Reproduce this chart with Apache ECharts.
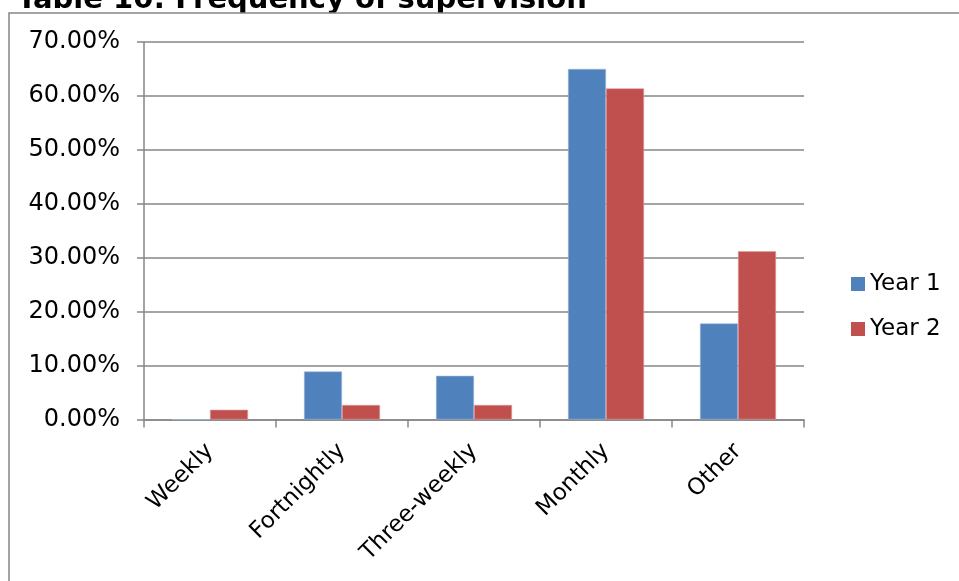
<!DOCTYPE html>
<html>
<head>
<meta charset="utf-8">
<script src="https://cdn.jsdelivr.net/npm/echarts@6/dist/echarts.min.js"></script>
<style>
  html, body { margin: 0; padding: 0; background: #fff; }
  #chart { width: 959px; height: 581px; }
</style>
</head>
<body>
<div id="chart"></div>
<script>
// Share of respondents by how often they receive supervision
const categories = ['Weekly', 'Fortnightly', 'Three-weekly', 'Monthly', 'Other'];
const year1 = [0, 0.089, 0.081, 0.650, 0.178];
const year2 = [0.018, 0.027, 0.027, 0.614, 0.312];
const seriesNames = ['Year 1', 'Year 2'];
const titleText = 'Table 10: Frequency of supervision';

const axisGray = '#868686';
const font = 'DejaVu Sans, Verdana, sans-serif';

const chart = echarts.init(document.getElementById('chart'), null, { renderer: 'canvas' });

chart.setOption({
  animation: false,
  backgroundColor: '#fff',
  textStyle: { fontFamily: font },
  graphic: [
    {
      // heading sits behind the chart frame, so only its upper part shows
      type: 'text',
      z: 0,
      x: 17,
      y: 0,
      style: {
        text: titleText,
        font: 'bold 29px ' + font,
        fill: '#000',
        verticalAlign: 'middle'
      }
    },
    {
      type: 'rect',
      z: 1,
      shape: { x: 9, y: 13, width: 1000, height: 700 },
      style: { fill: '#fff', stroke: axisGray, lineWidth: 1.5 }
    }
  ],
  legend: {
    z: 5,
    orient: 'vertical',
    left: 846,
    top: 267,
    itemWidth: 14,
    itemHeight: 14,
    itemGap: 21,
    icon: 'rect',
    itemStyle: { borderWidth: 0 },
    textStyle: { fontSize: 23, color: '#000', lineHeight: 24 },
    data: seriesNames
  },
  grid: { left: 144, right: 155, top: 42, bottom: 161.5, containLabel: false },
  xAxis: {
    type: 'category',
    z: 3,
    data: categories,
    axisLine: { show: true, lineStyle: { color: axisGray, width: 1.5 } },
    axisTick: { show: true, length: 8, lineStyle: { color: axisGray, width: 1.5 } },
    axisLabel: { rotate: 45, fontSize: 23, color: '#000', margin: 28, interval: 0 }
  },
  yAxis: {
    type: 'value',
    z: 3,
    min: 0,
    max: 0.7,
    interval: 0.1,
    axisLine: { show: true, lineStyle: { color: axisGray, width: 1.5 } },
    axisTick: { show: true, length: 7, lineStyle: { color: axisGray, width: 1.5 } },
    splitLine: { show: true, lineStyle: { color: axisGray, width: 1.5 } },
    axisLabel: {
      fontSize: 24,
      color: '#000',
      margin: 24,
      formatter: v => (v * 100).toFixed(2) + '%'
    }
  },
  series: [
    {
      name: seriesNames[0],
      type: 'bar',
      z: 4,
      data: year1,
      barWidth: 38,
      barGap: '0%',
      itemStyle: { color: '#4F81BD', borderColor: '#9DB7DC', borderWidth: 0.6 }
    },
    {
      name: seriesNames[1],
      type: 'bar',
      z: 4,
      data: year2,
      barWidth: 38,
      barGap: '0%',
      itemStyle: { color: '#C0504D', borderColor: '#DE9A98', borderWidth: 0.6 }
    }
  ]
});
</script>
</body>
</html>
